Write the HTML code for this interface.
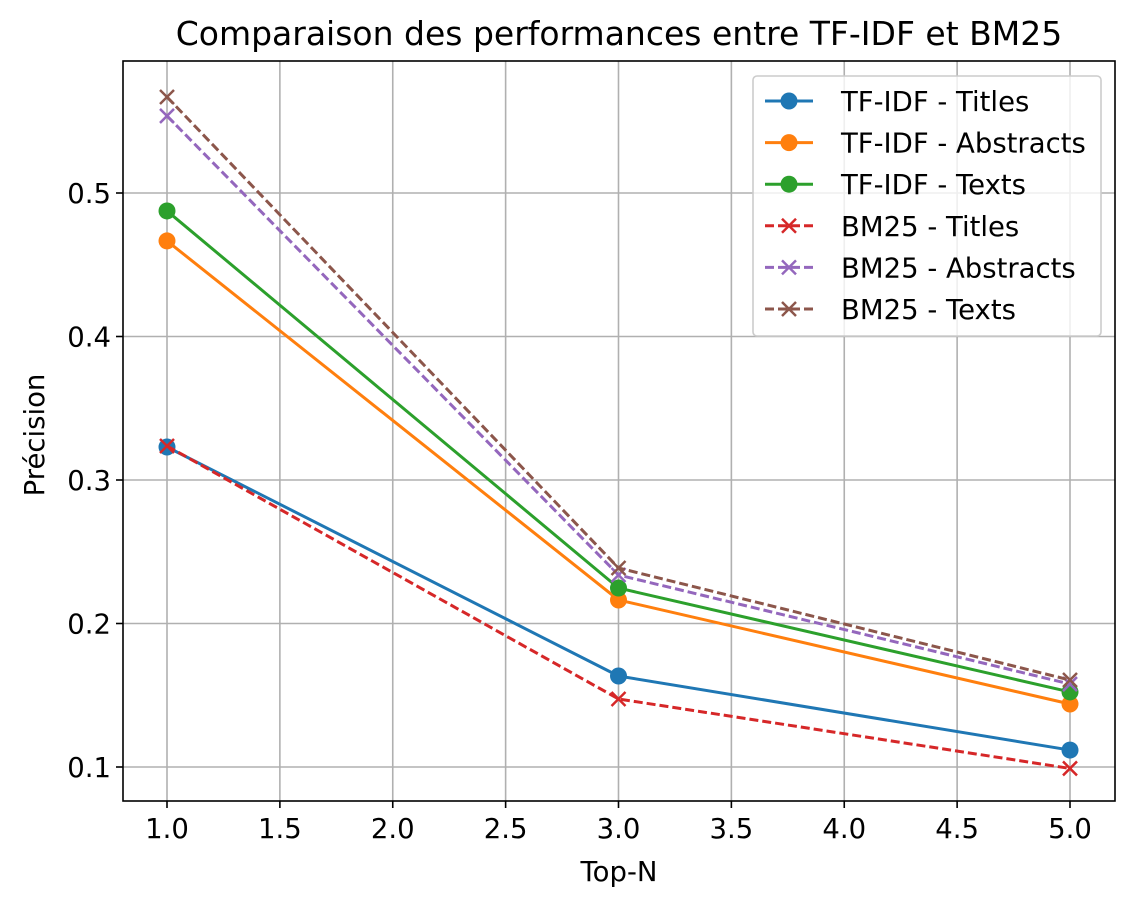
<!DOCTYPE html>
<html><head><meta charset="utf-8"><style>
body{margin:0;background:#fff;}
svg{display:block;font-family:"DejaVu Sans","Liberation Sans",sans-serif;}
</style></head><body>
<svg id="chart" width="1134" height="908" xmlns="http://www.w3.org/2000/svg"></svg>
<script>
const xValues=[1,3,5];
const tfidfTitles=[0.323,0.1634,0.1118];
const tfidfAbstracts=[0.4666,0.2164,0.1439];
const tfidfTexts=[0.4875,0.2247,0.1523];
const bm25Titles=[0.3237,0.1474,0.0990];
const bm25Abstracts=[0.5537,0.2338,0.1578];
const bm25Texts=[0.5669,0.2387,0.1606];
const xTicks=[1.0,1.5,2.0,2.5,3.0,3.5,4.0,4.5,5.0];
const yTicks=[0.1,0.2,0.3,0.4,0.5];
const seriesNames=["TF-IDF - Titles","TF-IDF - Abstracts","TF-IDF - Texts","BM25 - Titles","BM25 - Abstracts","BM25 - Texts"];

const NS="http://www.w3.org/2000/svg";
const svg=document.getElementById('chart');
const L=123,R=1115,T=61,B=801;
const xs=v=>167+(v-1)*225.75;
const ys=v=>767-(v-0.1)*1435;
function mk(tag,attrs,parent){const e=document.createElementNS(NS,tag);for(const k in attrs)e.setAttribute(k,attrs[k]);(parent||svg).appendChild(e);return e;}
const FS=27.5;

xTicks.forEach(t=>{const g=mk('line',{x1:xs(t),x2:xs(t),y1:T,y2:B,stroke:'#b0b0b0','stroke-width':1.6});


const tk=mk('line',{x1:xs(t),x2:xs(t),y1:B,y2:B+7,stroke:'#000','stroke-width':1.6});


const tx=mk('text',{x:xs(t),y:B+37,'text-anchor':'middle','font-size':FS});tx.textContent=t.toFixed(1);

});
yTicks.forEach(t=>{const g=mk('line',{x1:L,x2:R,y1:ys(t),y2:ys(t),stroke:'#b0b0b0','stroke-width':1.6});


const tk=mk('line',{x1:L-7,x2:L,y1:ys(t),y2:ys(t),stroke:'#000','stroke-width':1.6});


const tx=mk('text',{x:L-12,y:ys(t)+10,'text-anchor':'end','font-size':FS});tx.textContent=t.toFixed(1);

});

const styles=[
 {c:'#1f77b4',dash:null,m:'o',d:tfidfTitles},
 {c:'#ff7f0e',dash:null,m:'o',d:tfidfAbstracts},
 {c:'#2ca02c',dash:null,m:'o',d:tfidfTexts},
 {c:'#d62728',dash:'9,4',m:'x',d:bm25Titles},
 {c:'#9467bd',dash:'9,4',m:'x',d:bm25Abstracts},
 {c:'#8c564b',dash:'9,4',m:'x',d:bm25Texts}];
function marker(s,x,y,parent){
 if(s.m==='o'){return mk('circle',{cx:x,cy:y,r:8.5,fill:s.c},parent);}
 const g=mk('g',{},parent);
 mk('line',{x1:x-7,y1:y-7,x2:x+7,y2:y+7,stroke:s.c,'stroke-width':2.5},g);
 mk('line',{x1:x-7,y1:y+7,x2:x+7,y2:y-7,stroke:s.c,'stroke-width':2.5},g);
 return g;}
styles.forEach((s,i)=>{
 const p=mk('polyline',{points:xValues.map((x,j)=>xs(x)+','+ys(s.d[j])).join(' '),fill:'none',stroke:s.c,'stroke-width':3,'stroke-dasharray':s.dash||'none'});
 
 
 xValues.forEach((x,j)=>{const m=marker(s,xs(x),ys(s.d[j]));
 
 });
});

const fr=mk('rect',{x:L,y:T,width:R-L,height:B-T,fill:'none',stroke:'#000','stroke-width':1.6});



const lg=mk('g',{});


mk('rect',{x:753,y:76,width:348,height:260,rx:4,fill:'#fff','fill-opacity':0.8,stroke:'#ccc','stroke-width':1.6},lg);
styles.forEach((s,i)=>{
 const y=101+i*41.6;
 const e=mk('g',{},lg);
 
 
 mk('line',{x1:765,x2:813,y1:y,y2:y,stroke:s.c,'stroke-width':3,'stroke-dasharray':s.dash||'none'},e);
 marker(s,789,y,e);
 const t=mk('text',{x:841,y:y+10,'font-size':FS},e);t.textContent=seriesNames[i];
});

const title=mk('text',{x:619,y:45,'text-anchor':'middle','font-size':33});title.textContent='Comparaison des performances entre TF-IDF et BM25';


const xl=mk('text',{x:619,y:881,'text-anchor':'middle','font-size':FS});xl.textContent='Top-N';


const yl=mk('text',{x:0,y:0,'text-anchor':'middle','font-size':FS,transform:'translate(44,435) rotate(-90)'});yl.textContent='Précision';


</script>
</body></html>
